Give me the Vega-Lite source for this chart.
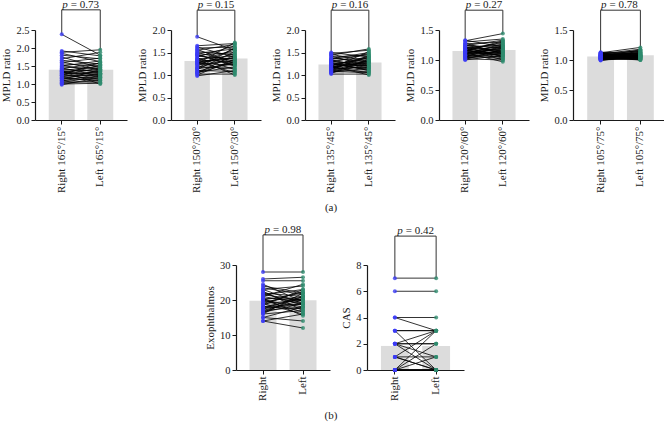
{
  "$schema": "https://vega.github.io/schema/vega-lite/v6.json",
  "padding": {"left": 0, "top": -2, "right": 0, "bottom": 0},
  "config": {
    "font": "Liberation Serif",
    "view": {"stroke": null},
    "axis": {
      "grid": false,
      "domainColor": "#1a1a1a",
      "tickColor": "#1a1a1a",
      "labelColor": "#1a1a1a",
      "titleColor": "#1a1a1a",
      "labelFont": "Liberation Serif",
      "titleFont": "Liberation Serif",
      "labelFontSize": 10.5,
      "titleFontSize": 11,
      "titleFontWeight": "normal",
      "tickSize": 4,
      "labelPadding": 2,
      "titlePadding": 4,
      "domainWidth": 1.2
    },
    "axisX": {"labelFontSize": 11},
    "text": {"font": "Liberation Serif", "color": "#1a1a1a", "fontSize": 11},
    "line": {"color": "#000000", "strokeWidth": 0.8},
    "circle": {"size": 16, "opacity": 0.8},
    "bar": {"color": "#dcdcdc"},
    "rule": {"color": "#333333", "strokeWidth": 1}
  },
  "datasets": {
    "a165": [
      {"id": 1, "Right": 2.38, "Left": 1.80}, {"id": 2, "Right": 1.92, "Left": 1.78},
      {"id": 3, "Right": 1.88, "Left": 1.95}, {"id": 4, "Right": 1.85, "Left": 1.62},
      {"id": 5, "Right": 1.80, "Left": 1.70}, {"id": 6, "Right": 1.75, "Left": 1.45},
      {"id": 7, "Right": 1.70, "Left": 1.88}, {"id": 8, "Right": 1.66, "Left": 1.55},
      {"id": 9, "Right": 1.62, "Left": 1.38}, {"id": 10, "Right": 1.60, "Left": 1.72},
      {"id": 11, "Right": 1.56, "Left": 1.50}, {"id": 12, "Right": 1.53, "Left": 1.30},
      {"id": 13, "Right": 1.50, "Left": 1.64}, {"id": 14, "Right": 1.48, "Left": 1.42},
      {"id": 15, "Right": 1.45, "Left": 1.22}, {"id": 16, "Right": 1.43, "Left": 1.58},
      {"id": 17, "Right": 1.40, "Left": 1.35}, {"id": 18, "Right": 1.38, "Left": 1.48},
      {"id": 19, "Right": 1.36, "Left": 1.18}, {"id": 20, "Right": 1.34, "Left": 1.40},
      {"id": 21, "Right": 1.32, "Left": 1.27}, {"id": 22, "Right": 1.30, "Left": 1.52},
      {"id": 23, "Right": 1.28, "Left": 1.33}, {"id": 24, "Right": 1.26, "Left": 1.12},
      {"id": 25, "Right": 1.24, "Left": 1.45}, {"id": 26, "Right": 1.22, "Left": 1.25},
      {"id": 27, "Right": 1.20, "Left": 1.36}, {"id": 28, "Right": 1.18, "Left": 1.08},
      {"id": 29, "Right": 1.16, "Left": 1.30}, {"id": 30, "Right": 1.14, "Left": 1.20},
      {"id": 31, "Right": 1.12, "Left": 1.40}, {"id": 32, "Right": 1.10, "Left": 1.15},
      {"id": 33, "Right": 1.08, "Left": 1.28}, {"id": 34, "Right": 1.06, "Left": 1.05},
      {"id": 35, "Right": 1.04, "Left": 1.22}, {"id": 36, "Right": 1.02, "Left": 1.10},
      {"id": 37, "Right": 1.00, "Left": 1.02}, {"id": 38, "Right": 0.98, "Left": 1.18},
      {"id": 39, "Right": 1.25, "Left": 1.60}, {"id": 40, "Right": 1.35, "Left": 1.00}
    ],
    "a150": [
      {"id": 1, "Right": 1.85, "Left": 1.55}, {"id": 2, "Right": 1.65, "Left": 1.70},
      {"id": 3, "Right": 1.62, "Left": 1.40}, {"id": 4, "Right": 1.60, "Left": 1.62},
      {"id": 5, "Right": 1.57, "Left": 1.25}, {"id": 6, "Right": 1.55, "Left": 1.68},
      {"id": 7, "Right": 1.52, "Left": 1.45}, {"id": 8, "Right": 1.50, "Left": 1.30},
      {"id": 9, "Right": 1.48, "Left": 1.58}, {"id": 10, "Right": 1.46, "Left": 1.20},
      {"id": 11, "Right": 1.44, "Left": 1.50}, {"id": 12, "Right": 1.42, "Left": 1.35},
      {"id": 13, "Right": 1.40, "Left": 1.65}, {"id": 14, "Right": 1.38, "Left": 1.12},
      {"id": 15, "Right": 1.36, "Left": 1.42}, {"id": 16, "Right": 1.34, "Left": 1.28},
      {"id": 17, "Right": 1.32, "Left": 1.55}, {"id": 18, "Right": 1.30, "Left": 1.05},
      {"id": 19, "Right": 1.28, "Left": 1.38}, {"id": 20, "Right": 1.26, "Left": 1.22},
      {"id": 21, "Right": 1.24, "Left": 1.48}, {"id": 22, "Right": 1.22, "Left": 1.32},
      {"id": 23, "Right": 1.20, "Left": 1.60}, {"id": 24, "Right": 1.18, "Left": 1.15},
      {"id": 25, "Right": 1.16, "Left": 1.40}, {"id": 26, "Right": 1.14, "Left": 1.25},
      {"id": 27, "Right": 1.12, "Left": 1.52}, {"id": 28, "Right": 1.10, "Left": 1.08},
      {"id": 29, "Right": 1.08, "Left": 1.30}, {"id": 30, "Right": 1.06, "Left": 1.18},
      {"id": 31, "Right": 1.04, "Left": 1.45}, {"id": 32, "Right": 1.02, "Left": 1.02},
      {"id": 33, "Right": 1.00, "Left": 1.35}, {"id": 34, "Right": 0.98, "Left": 1.10},
      {"id": 35, "Right": 1.35, "Left": 1.00}, {"id": 36, "Right": 1.25, "Left": 1.72},
      {"id": 37, "Right": 1.45, "Left": 1.22}, {"id": 38, "Right": 1.15, "Left": 1.60},
      {"id": 39, "Right": 1.05, "Left": 1.28}, {"id": 40, "Right": 1.30, "Left": 1.38}
    ],
    "a135": [
      {"id": 1, "Right": 1.50, "Left": 1.40}, {"id": 2, "Right": 1.48, "Left": 1.55},
      {"id": 3, "Right": 1.46, "Left": 1.30}, {"id": 4, "Right": 1.44, "Left": 1.58},
      {"id": 5, "Right": 1.42, "Left": 1.20}, {"id": 6, "Right": 1.40, "Left": 1.45},
      {"id": 7, "Right": 1.38, "Left": 1.28}, {"id": 8, "Right": 1.36, "Left": 1.50},
      {"id": 9, "Right": 1.34, "Left": 1.15}, {"id": 10, "Right": 1.32, "Left": 1.38},
      {"id": 11, "Right": 1.30, "Left": 1.25}, {"id": 12, "Right": 1.28, "Left": 1.48},
      {"id": 13, "Right": 1.26, "Left": 1.10}, {"id": 14, "Right": 1.24, "Left": 1.35},
      {"id": 15, "Right": 1.22, "Left": 1.22}, {"id": 16, "Right": 1.20, "Left": 1.42},
      {"id": 17, "Right": 1.18, "Left": 1.05}, {"id": 18, "Right": 1.16, "Left": 1.30},
      {"id": 19, "Right": 1.14, "Left": 1.18}, {"id": 20, "Right": 1.12, "Left": 1.40},
      {"id": 21, "Right": 1.10, "Left": 1.08}, {"id": 22, "Right": 1.08, "Left": 1.28},
      {"id": 23, "Right": 1.06, "Left": 1.15}, {"id": 24, "Right": 1.04, "Left": 1.35},
      {"id": 25, "Right": 1.02, "Left": 1.02}, {"id": 26, "Right": 1.20, "Left": 1.00},
      {"id": 27, "Right": 1.15, "Left": 1.52}, {"id": 28, "Right": 1.25, "Left": 1.12},
      {"id": 29, "Right": 1.10, "Left": 1.32}, {"id": 30, "Right": 1.30, "Left": 1.20},
      {"id": 31, "Right": 1.05, "Left": 1.25}, {"id": 32, "Right": 1.35, "Left": 1.45},
      {"id": 33, "Right": 1.12, "Left": 1.18}, {"id": 34, "Right": 1.22, "Left": 1.38},
      {"id": 35, "Right": 1.08, "Left": 1.05}, {"id": 36, "Right": 1.18, "Left": 1.28},
      {"id": 37, "Right": 1.28, "Left": 1.10}, {"id": 38, "Right": 1.14, "Left": 1.42},
      {"id": 39, "Right": 1.24, "Left": 1.20}, {"id": 40, "Right": 1.16, "Left": 1.32}
    ],
    "a120": [
      {"id": 1, "Right": 1.33, "Left": 1.22}, {"id": 2, "Right": 1.32, "Left": 1.44},
      {"id": 3, "Right": 1.30, "Left": 1.35}, {"id": 4, "Right": 1.28, "Left": 1.10},
      {"id": 5, "Right": 1.27, "Left": 1.30}, {"id": 6, "Right": 1.25, "Left": 1.20},
      {"id": 7, "Right": 1.24, "Left": 1.33}, {"id": 8, "Right": 1.22, "Left": 1.05},
      {"id": 9, "Right": 1.21, "Left": 1.25}, {"id": 10, "Right": 1.20, "Left": 1.15},
      {"id": 11, "Right": 1.19, "Left": 1.28}, {"id": 12, "Right": 1.18, "Left": 1.00},
      {"id": 13, "Right": 1.17, "Left": 1.22}, {"id": 14, "Right": 1.16, "Left": 1.12},
      {"id": 15, "Right": 1.15, "Left": 1.30}, {"id": 16, "Right": 1.14, "Left": 1.08},
      {"id": 17, "Right": 1.13, "Left": 1.18}, {"id": 18, "Right": 1.12, "Left": 0.97},
      {"id": 19, "Right": 1.11, "Left": 1.25}, {"id": 20, "Right": 1.10, "Left": 1.14},
      {"id": 21, "Right": 1.09, "Left": 1.20}, {"id": 22, "Right": 1.08, "Left": 1.02},
      {"id": 23, "Right": 1.07, "Left": 1.16}, {"id": 24, "Right": 1.06, "Left": 1.10},
      {"id": 25, "Right": 1.05, "Left": 1.24}, {"id": 26, "Right": 1.04, "Left": 1.06},
      {"id": 27, "Right": 1.03, "Left": 1.12}, {"id": 28, "Right": 1.02, "Left": 1.00},
      {"id": 29, "Right": 1.01, "Left": 1.18}, {"id": 30, "Right": 1.00, "Left": 1.08},
      {"id": 31, "Right": 1.15, "Left": 1.32}, {"id": 32, "Right": 1.20, "Left": 1.06},
      {"id": 33, "Right": 1.10, "Left": 1.27}, {"id": 34, "Right": 1.25, "Left": 1.12},
      {"id": 35, "Right": 1.05, "Left": 1.15}, {"id": 36, "Right": 1.12, "Left": 1.20},
      {"id": 37, "Right": 1.18, "Left": 1.03}, {"id": 38, "Right": 1.08, "Left": 1.22},
      {"id": 39, "Right": 1.22, "Left": 1.16}, {"id": 40, "Right": 1.14, "Left": 1.10}
    ],
    "a105": [
      {"id": 1, "Right": 1.13, "Left": 1.10}, {"id": 2, "Right": 1.12, "Left": 1.21},
      {"id": 3, "Right": 1.12, "Left": 1.05}, {"id": 4, "Right": 1.11, "Left": 1.15},
      {"id": 5, "Right": 1.11, "Left": 1.08}, {"id": 6, "Right": 1.10, "Left": 1.18},
      {"id": 7, "Right": 1.10, "Left": 1.02}, {"id": 8, "Right": 1.09, "Left": 1.12},
      {"id": 9, "Right": 1.09, "Left": 1.06}, {"id": 10, "Right": 1.08, "Left": 1.16},
      {"id": 11, "Right": 1.08, "Left": 1.00}, {"id": 12, "Right": 1.08, "Left": 1.10},
      {"id": 13, "Right": 1.07, "Left": 1.04}, {"id": 14, "Right": 1.07, "Left": 1.14},
      {"id": 15, "Right": 1.07, "Left": 1.07}, {"id": 16, "Right": 1.06, "Left": 1.12},
      {"id": 17, "Right": 1.06, "Left": 1.01}, {"id": 18, "Right": 1.06, "Left": 1.09},
      {"id": 19, "Right": 1.05, "Left": 1.05}, {"id": 20, "Right": 1.05, "Left": 1.13},
      {"id": 21, "Right": 1.05, "Left": 1.03}, {"id": 22, "Right": 1.04, "Left": 1.08},
      {"id": 23, "Right": 1.04, "Left": 1.11}, {"id": 24, "Right": 1.04, "Left": 1.00},
      {"id": 25, "Right": 1.03, "Left": 1.06}, {"id": 26, "Right": 1.03, "Left": 1.10},
      {"id": 27, "Right": 1.03, "Left": 1.02}, {"id": 28, "Right": 1.02, "Left": 1.07},
      {"id": 29, "Right": 1.02, "Left": 1.04}, {"id": 30, "Right": 1.02, "Left": 1.12},
      {"id": 31, "Right": 1.01, "Left": 1.05}, {"id": 32, "Right": 1.01, "Left": 1.09},
      {"id": 33, "Right": 1.01, "Left": 1.01}, {"id": 34, "Right": 1.00, "Left": 1.06},
      {"id": 35, "Right": 1.00, "Left": 1.03}, {"id": 36, "Right": 0.99, "Left": 1.08},
      {"id": 37, "Right": 1.06, "Left": 1.17}, {"id": 38, "Right": 1.09, "Left": 1.04},
      {"id": 39, "Right": 1.04, "Left": 1.15}, {"id": 40, "Right": 1.10, "Left": 1.06}
    ],
    "exo": [
      {"id": 1, "Right": 28, "Left": 28}, {"id": 2, "Right": 26, "Left": 26.5},
      {"id": 3, "Right": 25.5, "Left": 25.5}, {"id": 4, "Right": 24, "Left": 22},
      {"id": 5, "Right": 23, "Left": 24}, {"id": 6, "Right": 22.5, "Left": 17},
      {"id": 7, "Right": 22, "Left": 21}, {"id": 8, "Right": 21.5, "Left": 23},
      {"id": 9, "Right": 21, "Left": 19}, {"id": 10, "Right": 20.5, "Left": 20},
      {"id": 11, "Right": 20, "Left": 22}, {"id": 12, "Right": 20, "Left": 18},
      {"id": 13, "Right": 19.5, "Left": 21}, {"id": 14, "Right": 19, "Left": 16},
      {"id": 15, "Right": 19, "Left": 20}, {"id": 16, "Right": 18.5, "Left": 23},
      {"id": 17, "Right": 18, "Left": 19}, {"id": 18, "Right": 18, "Left": 17.5},
      {"id": 19, "Right": 17.5, "Left": 21}, {"id": 20, "Right": 17, "Left": 18},
      {"id": 21, "Right": 17, "Left": 20}, {"id": 22, "Right": 16.5, "Left": 19},
      {"id": 23, "Right": 16, "Left": 22}, {"id": 24, "Right": 16, "Left": 17},
      {"id": 25, "Right": 15, "Left": 18}, {"id": 26, "Right": 15, "Left": 14},
      {"id": 27, "Right": 14, "Left": 16}, {"id": 28, "Right": 14, "Left": 12},
      {"id": 29, "Right": 24.5, "Left": 19.5}, {"id": 30, "Right": 23.5, "Left": 21.5},
      {"id": 31, "Right": 21, "Left": 24.5}, {"id": 32, "Right": 20, "Left": 16.5},
      {"id": 33, "Right": 18, "Left": 20.5}, {"id": 34, "Right": 22, "Left": 18.5},
      {"id": 35, "Right": 19, "Left": 22.5}, {"id": 36, "Right": 17.5, "Left": 19},
      {"id": 37, "Right": 20.5, "Left": 15.5}, {"id": 38, "Right": 21.5, "Left": 20},
      {"id": 39, "Right": 16.5, "Left": 21}, {"id": 40, "Right": 23, "Left": 19}
    ],
    "cas": [
      {"id": 1, "Right": 7, "Left": 7}, {"id": 2, "Right": 6, "Left": 6},
      {"id": 3, "Right": 4, "Left": 4}, {"id": 4, "Right": 4, "Left": 3},
      {"id": 5, "Right": 3, "Left": 3}, {"id": 6, "Right": 3, "Left": 3},
      {"id": 7, "Right": 3, "Left": 0}, {"id": 8, "Right": 2, "Left": 2},
      {"id": 9, "Right": 2, "Left": 3}, {"id": 10, "Right": 2, "Left": 1},
      {"id": 11, "Right": 2, "Left": 0}, {"id": 12, "Right": 2, "Left": 2},
      {"id": 13, "Right": 1, "Left": 1}, {"id": 14, "Right": 1, "Left": 0},
      {"id": 15, "Right": 1, "Left": 3}, {"id": 16, "Right": 1, "Left": 0},
      {"id": 17, "Right": 0, "Left": 3}, {"id": 18, "Right": 0, "Left": 0},
      {"id": 19, "Right": 0, "Left": 1}, {"id": 20, "Right": 0, "Left": 0},
      {"id": 21, "Right": 0, "Left": 0}, {"id": 22, "Right": 0, "Left": 0},
      {"id": 23, "Right": 0, "Left": 2}, {"id": 24, "Right": 0, "Left": 0}
    ]
  },
  "vconcat": [
    {
      "hconcat": [
        {
          "width": 92, "height": 90,
          "data": {"name": "a165"},
          "transform": [{"fold": ["Right", "Left"], "as": ["side", "value"]}],
          "encoding": {
            "x": {"field": "side", "type": "nominal", "scale": {"domain": ["Right", "Left"], "paddingInner": 0.325, "paddingOuter": 0.357}, "axis": {"title": null, "labelAngle": -90, "labelExpr": "datum.value + ' 165°/15°'"}},
            "y": {"field": "value", "type": "quantitative", "title": "MPLD ratio", "scale": {"domain": [0, 2.5], "nice": false}, "axis": {"values": [0, 0.5, 1, 1.5, 2, 2.5], "format": ".1f"}}
          },
          "layer": [
            {"mark": "bar", "encoding": {"y": {"aggregate": "mean", "field": "value", "type": "quantitative", "title": "MPLD ratio"}}},
            {"mark": "rule", "encoding": {"y": {"aggregate": "max", "field": "value", "type": "quantitative", "title": "MPLD ratio"}, "y2": {"datum": 3.06}}},
            {"transform": [{"filter": {"field": "id", "equal": 1}}], "mark": {"type": "line", "color": "#333333", "strokeWidth": 1, "yOffset": -20.16}, "encoding": {"y": {"datum": 2.5}}},
            {"mark": "line", "encoding": {"detail": {"field": "id", "type": "nominal"}}},
            {"mark": "circle", "encoding": {"color": {"field": "side", "type": "nominal", "scale": {"domain": ["Right", "Left"], "range": ["#3b3bf5", "#2e8b6e"]}, "legend": null}}},
            {"transform": [{"filter": {"field": "id", "equal": 1}}, {"filter": {"field": "side", "equal": "Right"}}], "mark": {"type": "text", "text": "p", "fontStyle": "italic", "align": "right", "baseline": "bottom", "dx": 6, "dy": -20.2}, "encoding": {"y": {"datum": 2.5}}},
            {"transform": [{"filter": {"field": "id", "equal": 1}}, {"filter": {"field": "side", "equal": "Right"}}], "mark": {"type": "text", "text": "= 0.73", "align": "left", "baseline": "bottom", "dx": 9, "dy": -20.2}, "encoding": {"y": {"datum": 2.5}}}
          ]
        },
        {
          "width": 90, "height": 90,
          "data": {"name": "a150"},
          "transform": [{"fold": ["Right", "Left"], "as": ["side", "value"]}],
          "encoding": {
            "x": {"field": "side", "type": "nominal", "scale": {"domain": ["Right", "Left"], "paddingInner": 0.325, "paddingOuter": 0.357}, "axis": {"title": null, "labelAngle": -90, "labelExpr": "datum.value + ' 150°/30°'"}},
            "y": {"field": "value", "type": "quantitative", "title": "MPLD ratio", "scale": {"domain": [0, 2], "nice": false}, "axis": {"values": [0, 0.5, 1, 1.5, 2], "format": ".1f"}}
          },
          "layer": [
            {"mark": "bar", "encoding": {"y": {"aggregate": "mean", "field": "value", "type": "quantitative", "title": "MPLD ratio"}}},
            {"mark": "rule", "encoding": {"y": {"aggregate": "max", "field": "value", "type": "quantitative", "title": "MPLD ratio"}, "y2": {"datum": 2.44}}},
            {"transform": [{"filter": {"field": "id", "equal": 1}}], "mark": {"type": "line", "color": "#333333", "strokeWidth": 1, "yOffset": -19.8}, "encoding": {"y": {"datum": 2}}},
            {"mark": "line", "encoding": {"detail": {"field": "id", "type": "nominal"}}},
            {"mark": "circle", "encoding": {"color": {"field": "side", "type": "nominal", "scale": {"domain": ["Right", "Left"], "range": ["#3b3bf5", "#2e8b6e"]}, "legend": null}}},
            {"transform": [{"filter": {"field": "id", "equal": 1}}, {"filter": {"field": "side", "equal": "Right"}}], "mark": {"type": "text", "text": "p", "fontStyle": "italic", "align": "right", "baseline": "bottom", "dx": 6, "dy": -19.8}, "encoding": {"y": {"datum": 2}}},
            {"transform": [{"filter": {"field": "id", "equal": 1}}, {"filter": {"field": "side", "equal": "Right"}}], "mark": {"type": "text", "text": "= 0.15", "align": "left", "baseline": "bottom", "dx": 9, "dy": -19.8}, "encoding": {"y": {"datum": 2}}}
          ]
        },
        {
          "width": 90, "height": 90,
          "data": {"name": "a135"},
          "transform": [{"fold": ["Right", "Left"], "as": ["side", "value"]}],
          "encoding": {
            "x": {"field": "side", "type": "nominal", "scale": {"domain": ["Right", "Left"], "paddingInner": 0.325, "paddingOuter": 0.357}, "axis": {"title": null, "labelAngle": -90, "labelExpr": "datum.value + ' 135°/45°'"}},
            "y": {"field": "value", "type": "quantitative", "title": "MPLD ratio", "scale": {"domain": [0, 2], "nice": false}, "axis": {"values": [0, 0.5, 1, 1.5, 2], "format": ".1f"}}
          },
          "layer": [
            {"mark": "bar", "encoding": {"y": {"aggregate": "mean", "field": "value", "type": "quantitative", "title": "MPLD ratio"}}},
            {"mark": "rule", "encoding": {"y": {"aggregate": "max", "field": "value", "type": "quantitative", "title": "MPLD ratio"}, "y2": {"datum": 2.44}}},
            {"transform": [{"filter": {"field": "id", "equal": 1}}], "mark": {"type": "line", "color": "#333333", "strokeWidth": 1, "yOffset": -19.8}, "encoding": {"y": {"datum": 2}}},
            {"mark": "line", "encoding": {"detail": {"field": "id", "type": "nominal"}}},
            {"mark": "circle", "encoding": {"color": {"field": "side", "type": "nominal", "scale": {"domain": ["Right", "Left"], "range": ["#3b3bf5", "#2e8b6e"]}, "legend": null}}},
            {"transform": [{"filter": {"field": "id", "equal": 1}}, {"filter": {"field": "side", "equal": "Right"}}], "mark": {"type": "text", "text": "p", "fontStyle": "italic", "align": "right", "baseline": "bottom", "dx": 6, "dy": -19.8}, "encoding": {"y": {"datum": 2}}},
            {"transform": [{"filter": {"field": "id", "equal": 1}}, {"filter": {"field": "side", "equal": "Right"}}], "mark": {"type": "text", "text": "= 0.16", "align": "left", "baseline": "bottom", "dx": 9, "dy": -19.8}, "encoding": {"y": {"datum": 2}}}
          ]
        },
        {
          "width": 90, "height": 90,
          "data": {"name": "a120"},
          "transform": [{"fold": ["Right", "Left"], "as": ["side", "value"]}],
          "encoding": {
            "x": {"field": "side", "type": "nominal", "scale": {"domain": ["Right", "Left"], "paddingInner": 0.325, "paddingOuter": 0.357}, "axis": {"title": null, "labelAngle": -90, "labelExpr": "datum.value + ' 120°/60°'"}},
            "y": {"field": "value", "type": "quantitative", "title": "MPLD ratio", "scale": {"domain": [0, 1.5], "nice": false}, "axis": {"values": [0, 0.5, 1, 1.5], "format": ".1f"}}
          },
          "layer": [
            {"mark": "bar", "encoding": {"y": {"aggregate": "mean", "field": "value", "type": "quantitative", "title": "MPLD ratio"}}},
            {"mark": "rule", "encoding": {"y": {"aggregate": "max", "field": "value", "type": "quantitative", "title": "MPLD ratio"}, "y2": {"datum": 1.83}}},
            {"transform": [{"filter": {"field": "id", "equal": 1}}], "mark": {"type": "line", "color": "#333333", "strokeWidth": 1, "yOffset": -19.8}, "encoding": {"y": {"datum": 1.5}}},
            {"mark": "line", "encoding": {"detail": {"field": "id", "type": "nominal"}}},
            {"mark": "circle", "encoding": {"color": {"field": "side", "type": "nominal", "scale": {"domain": ["Right", "Left"], "range": ["#3b3bf5", "#2e8b6e"]}, "legend": null}}},
            {"transform": [{"filter": {"field": "id", "equal": 1}}, {"filter": {"field": "side", "equal": "Right"}}], "mark": {"type": "text", "text": "p", "fontStyle": "italic", "align": "right", "baseline": "bottom", "dx": 6, "dy": -19.8}, "encoding": {"y": {"datum": 1.5}}},
            {"transform": [{"filter": {"field": "id", "equal": 1}}, {"filter": {"field": "side", "equal": "Right"}}], "mark": {"type": "text", "text": "= 0.27", "align": "left", "baseline": "bottom", "dx": 9, "dy": -19.8}, "encoding": {"y": {"datum": 1.5}}}
          ]
        },
        {
          "width": 95, "height": 90,
          "data": {"name": "a105"},
          "transform": [{"fold": ["Right", "Left"], "as": ["side", "value"]}],
          "encoding": {
            "x": {"field": "side", "type": "nominal", "scale": {"domain": ["Right", "Left"], "paddingInner": 0.325, "paddingOuter": 0.357}, "axis": {"title": null, "labelAngle": -90, "labelExpr": "datum.value + ' 105°/75°'"}},
            "y": {"field": "value", "type": "quantitative", "title": "MPLD ratio", "scale": {"domain": [0, 1.5], "nice": false}, "axis": {"values": [0, 0.5, 1, 1.5], "format": ".1f"}}
          },
          "layer": [
            {"mark": "bar", "encoding": {"y": {"aggregate": "mean", "field": "value", "type": "quantitative", "title": "MPLD ratio"}}},
            {"mark": "rule", "encoding": {"y": {"aggregate": "max", "field": "value", "type": "quantitative", "title": "MPLD ratio"}, "y2": {"datum": 1.83}}},
            {"transform": [{"filter": {"field": "id", "equal": 1}}], "mark": {"type": "line", "color": "#333333", "strokeWidth": 1, "yOffset": -19.8}, "encoding": {"y": {"datum": 1.5}}},
            {"mark": "line", "encoding": {"detail": {"field": "id", "type": "nominal"}}},
            {"mark": "circle", "encoding": {"color": {"field": "side", "type": "nominal", "scale": {"domain": ["Right", "Left"], "range": ["#3b3bf5", "#2e8b6e"]}, "legend": null}}},
            {"transform": [{"filter": {"field": "id", "equal": 1}}, {"filter": {"field": "side", "equal": "Right"}}], "mark": {"type": "text", "text": "p", "fontStyle": "italic", "align": "right", "baseline": "bottom", "dx": 6, "dy": -19.8}, "encoding": {"y": {"datum": 1.5}}},
            {"transform": [{"filter": {"field": "id", "equal": 1}}, {"filter": {"field": "side", "equal": "Right"}}], "mark": {"type": "text", "text": "= 0.78", "align": "left", "baseline": "bottom", "dx": 9, "dy": -19.8}, "encoding": {"y": {"datum": 1.5}}}
          ]
        }
      ],
      "spacing": 9
    },
    {
      "width": 592, "height": 12,
      "data": {"values": [{"label": "(a)"}]},
      "mark": "text",
      "encoding": {
        "text": {"field": "label", "type": "nominal"},
        "x": {"datum": 0.5, "type": "quantitative", "scale": {"domain": [0, 1]}, "axis": null},
        "y": {"datum": 0.5, "type": "quantitative", "scale": {"domain": [0, 1]}, "axis": null}
      }
    },
    {
      "hconcat": [
        {
          "width": 159, "height": 105,
          "data": {"values": [{"n": 1}]},
          "mark": {"type": "point", "opacity": 0}
        },
        {
          "width": 94, "height": 105,
          "data": {"name": "exo"},
          "transform": [{"fold": ["Right", "Left"], "as": ["side", "value"]}],
          "encoding": {
            "x": {"field": "side", "type": "nominal", "scale": {"domain": ["Right", "Left"], "paddingInner": 0.325, "paddingOuter": 0.3375}, "axis": {"title": null, "labelAngle": -90}},
            "y": {"field": "value", "type": "quantitative", "title": "Exophthalmos", "scale": {"domain": [0, 30], "nice": false}, "axis": {"values": [0, 10, 20, 30], "format": "d"}}
          },
          "layer": [
            {"mark": "bar", "encoding": {"y": {"aggregate": "mean", "field": "value", "type": "quantitative", "title": "Exophthalmos"}}},
            {"mark": "rule", "encoding": {"y": {"aggregate": "max", "field": "value", "type": "quantitative", "title": "Exophthalmos"}, "y2": {"datum": 38.6}}},
            {"transform": [{"filter": {"field": "id", "equal": 1}}], "mark": {"type": "line", "color": "#333333", "strokeWidth": 1, "yOffset": -30.1}, "encoding": {"y": {"datum": 30}}},
            {"mark": "line", "encoding": {"detail": {"field": "id", "type": "nominal"}}},
            {"mark": "circle", "encoding": {"color": {"field": "side", "type": "nominal", "scale": {"domain": ["Right", "Left"], "range": ["#3b3bf5", "#2e8b6e"]}, "legend": null}}},
            {"transform": [{"filter": {"field": "id", "equal": 1}}, {"filter": {"field": "side", "equal": "Right"}}], "mark": {"type": "text", "text": "p", "fontStyle": "italic", "align": "right", "baseline": "bottom", "dx": 7, "dy": -30.1}, "encoding": {"y": {"datum": 30}}},
            {"transform": [{"filter": {"field": "id", "equal": 1}}, {"filter": {"field": "side", "equal": "Right"}}], "mark": {"type": "text", "text": "= 0.98", "align": "left", "baseline": "bottom", "dx": 10, "dy": -30.1}, "encoding": {"y": {"datum": 30}}}
          ]
        },
        {
          "width": 97, "height": 105,
          "data": {"name": "cas"},
          "transform": [{"fold": ["Right", "Left"], "as": ["side", "value"]}],
          "encoding": {
            "x": {"field": "side", "type": "nominal", "scale": {"domain": ["Right", "Left"], "paddingInner": 0.325, "paddingOuter": 0.3375}, "axis": {"title": null, "labelAngle": -90}},
            "y": {"field": "value", "type": "quantitative", "title": "CAS", "scale": {"domain": [0, 8], "nice": false}, "axis": {"values": [0, 2, 4, 6, 8], "format": "d"}}
          },
          "layer": [
            {"mark": "bar", "encoding": {"y": {"aggregate": "mean", "field": "value", "type": "quantitative", "title": "CAS"}}},
            {"mark": "rule", "encoding": {"y": {"aggregate": "max", "field": "value", "type": "quantitative", "title": "CAS"}, "y2": {"datum": 10.2}}},
            {"transform": [{"filter": {"field": "id", "equal": 1}}], "mark": {"type": "line", "color": "#333333", "strokeWidth": 1, "yOffset": -28.9}, "encoding": {"y": {"datum": 8}}},
            {"mark": "line", "encoding": {"detail": {"field": "id", "type": "nominal"}}},
            {"mark": "circle", "encoding": {"color": {"field": "side", "type": "nominal", "scale": {"domain": ["Right", "Left"], "range": ["#3b3bf5", "#2e8b6e"]}, "legend": null}}},
            {"transform": [{"filter": {"field": "id", "equal": 1}}, {"filter": {"field": "side", "equal": "Right"}}], "mark": {"type": "text", "text": "p", "fontStyle": "italic", "align": "right", "baseline": "bottom", "dx": 8, "dy": -28.9}, "encoding": {"y": {"datum": 8}}},
            {"transform": [{"filter": {"field": "id", "equal": 1}}, {"filter": {"field": "side", "equal": "Right"}}], "mark": {"type": "text", "text": "= 0.42", "align": "left", "baseline": "bottom", "dx": 11, "dy": -28.9}, "encoding": {"y": {"datum": 8}}}
          ]
        }
      ],
      "spacing": 10
    },
    {
      "width": 592, "height": 12,
      "data": {"values": [{"label": "(b)"}]},
      "mark": "text",
      "encoding": {
        "text": {"field": "label", "type": "nominal"},
        "x": {"datum": 0.5, "type": "quantitative", "scale": {"domain": [0, 1]}, "axis": null},
        "y": {"datum": 0.5, "type": "quantitative", "scale": {"domain": [0, 1]}, "axis": null}
      }
    }
  ],
  "spacing": 9
}
